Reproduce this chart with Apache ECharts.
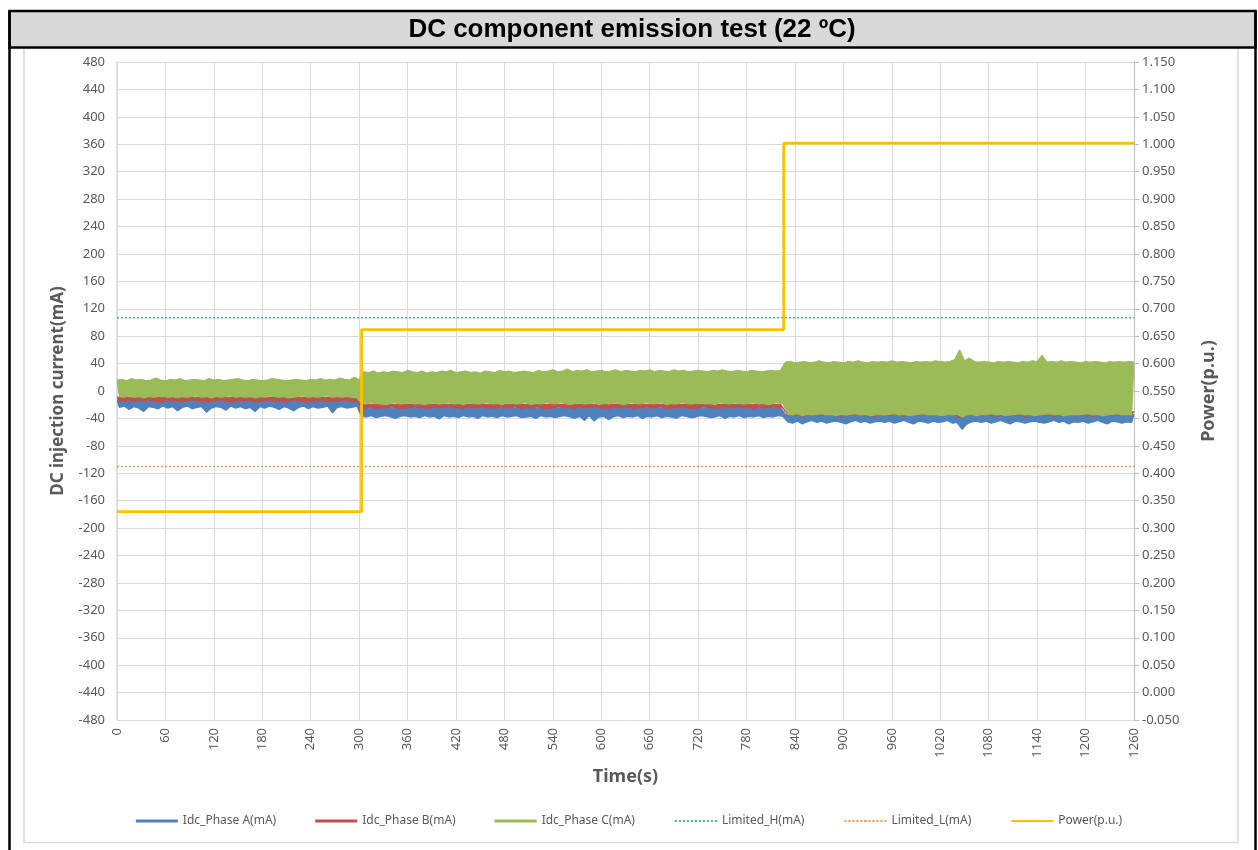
<!DOCTYPE html>
<html>
<head>
<meta charset="utf-8">
<script src="https://cdn.jsdelivr.net/npm/echarts@6/dist/echarts.min.js"></script>
<style>
html,body{margin:0;padding:0;background:#fff;}
#chart{width:1258px;height:850px;}
</style>
</head>
<body>
<div id="chart"></div>
<script>
// ---- Data ----
const titleText = 'DC component emission test (22 ºC)';
const sampleStep = 3; // seconds between samples; even samples = upper readings, odd samples = lower readings
const seriesNames = ['Idc_Phase A(mA)','Idc_Phase B(mA)','Idc_Phase C(mA)','Limited_H(mA)','Limited_L(mA)','Power(p.u.)'];

// Phase A: 0-300 s, 303-825 s, 828-1260 s
const phaseA = [
-13,-24,-14,-22,-13,-27,-14,-23,-13,-25,-13,-30,-14,-23,-13,-24,-14,-26,-13,-22,
-13,-25,-14,-23,-13,-29,-13,-24,-14,-22,-13,-26,-14,-24,-13,-23,-14,-31,-13,-25,
-14,-23,-13,-24,-13,-28,-14,-22,-13,-25,-14,-23,-13,-26,-13,-24,-14,-30,-13,-23,
-13,-25,-14,-22,-13,-24,-14,-27,-13,-23,-13,-25,-14,-29,-13,-24,-14,-22,-13,-26,
-13,-23,-14,-25,-13,-24,-14,-22,-13,-32,-13,-24,-14,-23,-13,-25,-14,-24,-13,-22,
-13,
-37,-24,-38,-25,-36,-24,-39,-25,-37,-24,-36,-24,-38,-25,-40,-24,-37,-25,-36,-24,
-38,-24,-37,-25,-39,-24,-36,-25,-38,-24,-37,-24,-41,-25,-36,-24,-38,-25,-37,-24,
-39,-25,-36,-24,-38,-24,-37,-25,-40,-24,-36,-24,-38,-25,-37,-24,-39,-25,-36,-24,
-38,-24,-37,-25,-36,-24,-39,-25,-38,-24,-37,-24,-40,-25,-36,-24,-38,-25,-37,-24,
-39,-25,-37,-24,-36,-24,-38,-25,-40,-24,-37,-24,-43,-25,-36,-24,-44,-25,-38,-24,
-37,-25,-42,-24,-38,-24,-36,-25,-39,-24,-37,-24,-38,-25,-36,-24,-40,-25,-37,-24,
-38,-24,-36,-25,-39,-24,-37,-24,-38,-25,-40,-24,-36,-24,-37,-25,-39,-24,-38,-24,
-36,-25,-37,-24,-39,-24,-38,-25,-36,-24,-40,-24,-37,-25,-38,-24,-36,-24,-39,-25,
-37,-24,-38,-24,-36,-25,-39,-24,-37,-24,-38,-25,-36,-24,-37,
-34,-45,-35,-47,-34,-44,-35,-48,-34,-45,-34,-43,-35,-46,-34,-44,-35,-47,-34,-45,
-34,-44,-35,-46,-34,-48,-34,-45,-35,-43,-34,-46,-35,-44,-34,-47,-35,-45,-34,-44,
-35,-46,-34,-44,-34,-47,-35,-45,-34,-43,-35,-46,-34,-48,-34,-44,-35,-45,-34,-47,
-34,-44,-35,-46,-34,-45,-35,-43,-34,-47,-35,-46,-34,-56,-35,-48,-34,-45,-35,-44,
-34,-46,-35,-44,-34,-47,-35,-45,-34,-43,-35,-46,-34,-48,-34,-44,-35,-45,-34,-47,
-34,-45,-35,-44,-34,-46,-35,-47,-34,-45,-34,-43,-35,-46,-34,-44,-35,-48,-34,-45,
-34,-46,-35,-44,-34,-47,-35,-45,-34,-43,-35,-46,-34,-48,-34,-44,-35,-45,-34,-47,
-34,-45,-35,-46,-34
];

const phaseB = [
-9,-14,-10,-15,-9,-13,-10,-16,-9,-14,-9,-15,-10,-13,-9,-14,-10,-16,-9,-15,
-9,-13,-10,-14,-9,-15,-9,-16,-10,-14,-9,-13,-10,-15,-9,-14,-10,-17,-9,-15,
-10,-14,-9,-13,-9,-15,-10,-16,-9,-14,-10,-15,-9,-13,-9,-14,-10,-16,-9,-15,
-9,-14,-10,-13,-9,-15,-10,-14,-9,-16,-9,-15,-10,-13,-9,-14,-10,-15,-9,-17,
-9,-14,-10,-15,-9,-13,-10,-16,-9,-14,-9,-15,-10,-13,-9,-14,-10,-16,-9,-15,
-9,
-24,-19,-25,-20,-23,-19,-26,-20,-24,-19,-25,-19,-23,-20,-24,-19,-26,-20,-25,-19,
-24,-19,-23,-20,-25,-19,-24,-20,-26,-19,-23,-19,-25,-20,-24,-19,-23,-20,-25,-19,
-24,-20,-26,-19,-23,-19,-25,-20,-24,-19,-23,-20,-26,-19,-24,-19,-25,-20,-23,-19,
-25,-19,-24,-20,-23,-19,-26,-20,-24,-19,-25,-19,-23,-20,-24,-19,-26,-20,-25,-19,
-24,-19,-23,-20,-25,-19,-24,-20,-26,-19,-23,-19,-25,-20,-24,-19,-23,-20,-25,-19,
-24,-20,-26,-19,-23,-19,-25,-20,-24,-19,-23,-20,-26,-19,-24,-19,-25,-20,-23,-19,
-25,-19,-24,-20,-23,-19,-26,-20,-24,-19,-25,-19,-23,-20,-24,-19,-26,-20,-25,-19,
-24,-19,-23,-20,-25,-19,-24,-20,-26,-19,-23,-19,-25,-20,-24,-19,-23,-20,-25,-19,
-24,-20,-26,-19,-23,-19,-25,-20,-24,-19,-23,-20,-25,-19,-24,
-30,-35,-31,-36,-30,-34,-31,-37,-30,-35,-30,-36,-31,-34,-30,-35,-31,-36,-30,-34,
-30,-35,-31,-37,-30,-34,-30,-36,-31,-35,-30,-34,-31,-36,-30,-35,-31,-37,-30,-34,
-31,-35,-30,-36,-30,-34,-31,-35,-30,-37,-31,-34,-30,-36,-30,-35,-31,-34,-30,-36,
-30,-35,-31,-34,-30,-36,-31,-35,-30,-34,-31,-37,-30,-38,-31,-35,-30,-36,-31,-34,
-30,-35,-31,-36,-30,-34,-31,-37,-30,-35,-30,-34,-31,-36,-30,-35,-31,-34,-30,-37,
-30,-35,-31,-34,-30,-36,-31,-35,-30,-34,-31,-37,-30,-35,-30,-36,-31,-34,-30,-35,
-31,-36,-30,-34,-30,-35,-31,-37,-30,-34,-31,-35,-30,-36,-30,-34,-31,-35,-30,-36,
-30,-35,-31,-34,-30
];

const phaseC = [
16,-8,17,-9,15,-7,18,-9,16,-8,17,-10,15,-8,16,-9,19,-8,16,-7,
15,-9,17,-8,16,-10,18,-8,15,-9,16,-8,17,-7,16,-9,15,-8,18,-10,
16,-8,17,-9,15,-8,16,-7,17,-9,18,-8,16,-9,15,-8,17,-10,16,-8,
15,-9,16,-7,18,-8,17,-9,16,-8,15,-10,16,-9,17,-8,16,-7,15,-9,
17,-8,16,-9,18,-8,16,-7,17,-9,16,-8,19,-9,17,-8,16,-9,20,-10,
16,
-18,28,-19,27,-17,29,-18,26,-19,28,-20,27,-18,29,-17,28,-19,27,-18,30,
-17,28,-19,27,-18,29,-20,26,-18,28,-17,27,-19,29,-18,28,-17,30,-19,27,
-18,28,-20,29,-17,27,-18,28,-19,26,-18,29,-17,28,-19,27,-18,30,-20,28,
-17,29,-18,27,-19,28,-18,29,-17,28,-20,27,-18,30,-19,28,-17,29,-18,31,
-19,28,-17,29,-18,32,-20,28,-18,30,-17,29,-19,31,-18,28,-17,29,-20,30,
-18,28,-19,29,-17,31,-18,28,-20,30,-18,29,-17,28,-19,30,-18,29,-17,31,
-19,28,-18,30,-17,29,-20,28,-18,31,-19,29,-17,30,-18,28,-19,29,-18,30,
-17,29,-19,28,-18,30,-20,29,-17,31,-18,29,-19,28,-17,30,-18,29,-19,28,
-18,30,-17,29,-19,28,-18,29,-20,30,-18,29,-17,30,-18,
42,-34,43,-35,41,-33,42,-36,43,-34,41,-35,42,-34,44,-33,42,-35,41,-34,
43,-36,42,-34,41,-35,43,-34,42,-33,44,-35,42,-34,41,-36,43,-35,42,-34,
43,-35,42,-34,44,-33,42,-35,43,-34,42,-36,41,-35,43,-34,42,-33,43,-35,
42,-34,44,-35,43,-36,42,-34,43,-35,46,-34,60,-38,44,-35,48,-34,43,-36,
42,-34,43,-35,42,-33,41,-35,43,-34,42,-36,43,-35,42,-34,41,-33,43,-35,
42,-34,44,-36,43,-35,52,-34,42,-33,43,-35,42,-34,44,-36,42,-35,43,-34,
42,-35,41,-34,43,-33,42,-35,43,-34,42,-36,41,-35,43,-34,42,-33,43,-35,
42,-34,43,-35,42
];

const limitTimes = [0, 1260];
const limitedH = [107, 107];
const limitedL = [-110, -110];

const powerTimes = [0, 303, 303, 826, 826, 1260];
const powerValues = [0.330, 0.330, 0.662, 0.662, 1.002, 1.002];

// ---- Build ----
const zipPairs = (xs, ys) => xs.map((x, i) => [x, ys[i]]);

const colors = ['#4F81BD', '#C0504D', '#9BBB59', '#4BACC6', '#F79646', '#FFC000'];
const labelColor = '#595959';
const font = 'Noto Sans';

// Noisy phase current drawn as a filled band: upper readings (even samples)
// form the top edge, lower readings (odd samples) form the bottom edge.
function bandSeries(name, values, color) {
  const rows = values.map((v, i) => [i * sampleStep, v]);
  return {
    name: name,
    type: 'custom',
    coordinateSystem: 'cartesian2d',
    itemStyle: {color: color},
    data: [rows[0]],
    encode: {x: 0, y: 1},
    clip: true,
    renderItem: function (params, api) {
      const top = [], bottom = [];
      rows.forEach((r, i) => {
        const p = api.coord(r);
        if (i % 2 === 0) top.push(p); else bottom.push(p);
      });
      bottom.reverse();
      return {
        type: 'polygon',
        shape: {points: top.concat(bottom)},
        style: {fill: color, stroke: color, lineWidth: 1.2, lineJoin: 'bevel'}
      };
    }
  };
}

function lineSeries(name, times, values, color, width, dashed, yAxisIndex) {
  return {
    name: name, type: 'line', yAxisIndex: yAxisIndex || 0,
    data: zipPairs(times, values),
    showSymbol: false, symbol: 'none',
    itemStyle: {color: color},
    lineStyle: {color: color, width: width, type: dashed ? [2, 2] : 'solid'}
  };
}

const chart = echarts.init(document.getElementById('chart'), null, {renderer: 'canvas'});

const option = {
  animation: false,
  color: colors,
  graphic: [
    {type: 'rect', z: 100, shape: {x: 24, y: 47.5, width: 1214, height: 795}, style: {fill: 'none', stroke: '#d9d9d9', lineWidth: 1.5}},
    {type: 'rect', z: 101, shape: {x: 9.5, y: 11, width: 1246, height: 36.5}, style: {fill: '#d9d9d9', stroke: '#000', lineWidth: 2.5}},
    {type: 'line', z: 101, shape: {x1: 9.5, y1: 11, x2: 9.5, y2: 852}, style: {stroke: '#000', lineWidth: 2.5}},
    {type: 'line', z: 101, shape: {x1: 1255.5, y1: 11, x2: 1255.5, y2: 852}, style: {stroke: '#000', lineWidth: 2.5}},
    {type: 'text', z: 102, x: 632, y: 30, style: {text: titleText, fill: '#000', font: 'bold 26px "Liberation Sans", Arial', textAlign: 'center', textVerticalAlign: 'middle'}}
  ],
  grid: {left: 117, right: 124, top: 62, bottom: 130, containLabel: false},
  legend: {
    bottom: 18,
    left: 'center',
    itemWidth: 42,
    itemHeight: 3,
    itemGap: 39,
    textStyle: {color: labelColor, fontSize: 12, fontFamily: font},
    data: [
      {name: seriesNames[0], icon: 'rect'},
      {name: seriesNames[1], icon: 'rect'},
      {name: seriesNames[2], icon: 'rect'},
      seriesNames[3], seriesNames[4], seriesNames[5]
    ]
  },
  xAxis: {
    type: 'value', min: 0, max: 1260, interval: 60,
    name: 'Time(s)', nameLocation: 'middle', nameGap: 48,
    nameTextStyle: {fontSize: 18, fontWeight: 'bold', color: labelColor, fontFamily: font},
    axisLine: {lineStyle: {color: '#d9d9d9', width: 1.5}},
    axisTick: {show: false},
    axisLabel: {rotate: 90, color: labelColor, fontSize: 13, fontFamily: font, margin: 8, formatter: v => String(v)},
    splitLine: {show: true, lineStyle: {color: '#d9d9d9', width: 1}}
  },
  yAxis: [
    {
      type: 'value', min: -480, max: 480, interval: 40,
      name: 'DC injection current(mA)', nameLocation: 'middle', nameGap: 50, nameRotate: 90,
      nameTextStyle: {fontSize: 17, fontWeight: 'bold', color: labelColor, fontFamily: font},
      axisLine: {show: true, lineStyle: {color: '#d9d9d9', width: 1.5}},
      axisTick: {show: false},
      axisLabel: {color: labelColor, fontSize: 13, fontFamily: font, margin: 12, formatter: v => String(v)},
      splitLine: {show: true, lineStyle: {color: '#d9d9d9', width: 1}}
    },
    {
      type: 'value', min: -0.05, max: 1.15, interval: 0.05, position: 'right',
      name: 'Power(p.u.)', nameLocation: 'middle', nameGap: 66, nameRotate: 90,
      nameTextStyle: {fontSize: 18, fontWeight: 'bold', color: labelColor, fontFamily: font},
      axisLine: {show: true, lineStyle: {color: '#bfbfbf', width: 1}},
      axisTick: {show: true, length: 5, lineStyle: {color: '#bfbfbf'}},
      axisLabel: {color: labelColor, fontSize: 13, fontFamily: font, margin: 8, formatter: v => v.toFixed(3)},
      splitLine: {show: false}
    }
  ],
  series: [
    bandSeries(seriesNames[0], phaseA, colors[0]),
    bandSeries(seriesNames[1], phaseB, colors[1]),
    bandSeries(seriesNames[2], phaseC, colors[2]),
    lineSeries(seriesNames[3], limitTimes, limitedH, colors[3], 1.5, true),
    lineSeries(seriesNames[4], limitTimes, limitedL, colors[4], 1.5, true),
    lineSeries(seriesNames[5], powerTimes, powerValues, colors[5], 2.8, false, 1)
  ]
};
chart.setOption(option);
</script>
</body>
</html>
